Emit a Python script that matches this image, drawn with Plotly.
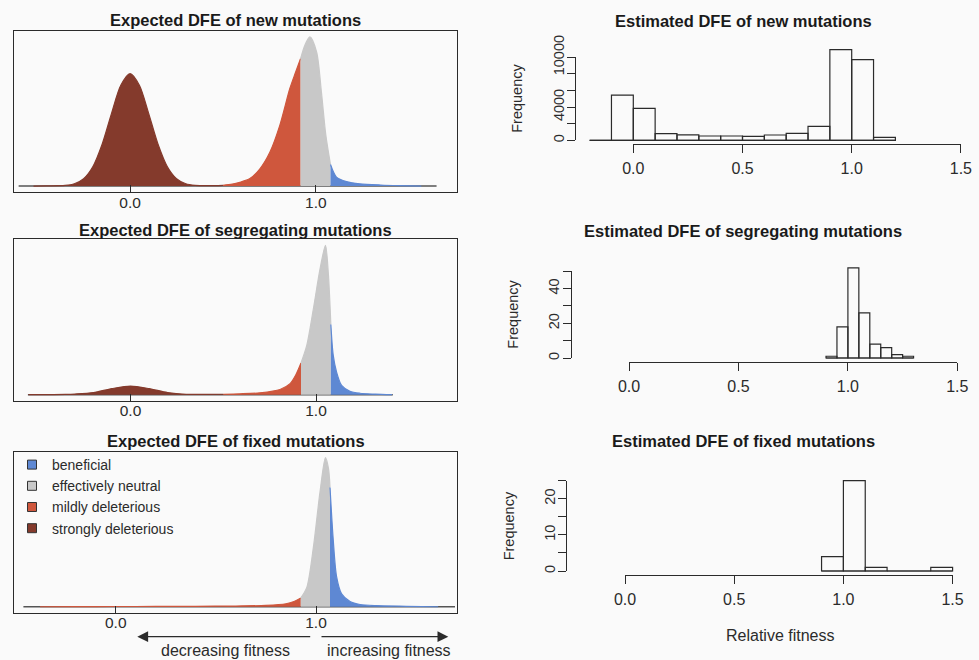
import plotly.graph_objects as go

W, H = 979, 660
FONT = "Liberation Sans, Arial, Helvetica, sans-serif"
INK = "#2b2b2b"
BG = "#fafafa"

# ---------------- data ----------------
category_names = ["beneficial", "effectively neutral", "mildly deleterious", "strongly deleterious"]
category_colors = ["#5e88d3", "#c8c8c8", "#cf573d", "#843a2c"]

# Expected DFE: relative density (tallest peak = 1)
new_x = [-0.52, -0.45, -0.35, -0.30, -0.25, -0.20, -0.15, -0.10, -0.05, 0.00, 0.05, 0.10, 0.15,
         0.20, 0.25, 0.30, 0.35, 0.42, 0.50, 0.55, 0.59, 0.645, 0.70, 0.753, 0.806, 0.86, 0.89,
         0.918, 0.941, 0.968, 1.004, 1.03, 1.054, 1.079, 1.111, 1.165, 1.237, 1.35, 1.45, 1.568]
new_y = [0.0, 0.001, 0.004, 0.015, 0.049, 0.131, 0.282, 0.487, 0.676, 0.754, 0.676, 0.487, 0.282,
         0.131, 0.049, 0.015, 0.005, 0.003, 0.005, 0.013, 0.025, 0.05, 0.117, 0.228, 0.407, 0.654, 0.76,
         0.855, 0.945, 1.0, 0.90, 0.63, 0.34, 0.144, 0.06, 0.03, 0.015, 0.007, 0.003, 0.0]
new_bounds = [0.50, 0.918, 1.079]       # strongly | mildly | neutral | beneficial
new_support = [-0.60, 1.65]

seg_x = [-0.55, -0.45, -0.35, -0.30, -0.20, -0.10, 0.00, 0.10, 0.20, 0.30, 0.40, 0.50, 0.59,
         0.698, 0.806, 0.86, 0.89, 0.919, 0.95, 0.986, 1.022, 1.051, 1.066, 1.08, 1.093, 1.111,
         1.138, 1.183, 1.237, 1.32, 1.41]
seg_y = [0.0, 0.0005, 0.002, 0.0045, 0.0145, 0.041, 0.058, 0.041, 0.0145, 0.003, 0.002, 0.003, 0.006,
         0.013, 0.035, 0.074, 0.13, 0.212, 0.33, 0.576, 0.844, 1.0, 0.82, 0.47, 0.263, 0.151,
         0.062, 0.023, 0.01, 0.004, 0.0]
seg_bounds = [0.50, 0.919, 1.08]
seg_support = [-0.553, 1.414]

fix_x = [-0.378, -0.2, 0.0, 0.2, 0.4, 0.6, 0.75, 0.85, 0.89, 0.924, 0.954, 0.987, 1.02, 1.047,
         1.062, 1.07, 1.086, 1.103, 1.128, 1.17, 1.22, 1.3, 1.45, 1.61]
fix_y = [0.0, 0.001, 0.0015, 0.002, 0.003, 0.005, 0.009, 0.02, 0.035, 0.059, 0.13, 0.40, 0.77, 1.0,
         0.93, 0.80, 0.45, 0.2, 0.086, 0.035, 0.015, 0.007, 0.003, 0.0]
fix_bounds = [-0.378, 0.924, 1.07]
fix_support = [-0.461, 1.694]

# Estimated DFE: histogram breaks and counts
new_breaks = [-0.2, -0.1, 0.0, 0.1, 0.2, 0.3, 0.4, 0.5, 0.6, 0.7, 0.8, 0.9, 1.0, 1.1, 1.2]
new_counts = [0, 5450, 3850, 800, 650, 520, 520, 480, 640, 840, 1680, 10920, 9720, 360]
seg_breaks = [0.90, 0.95, 1.00, 1.05, 1.10, 1.15, 1.20, 1.25, 1.30]
seg_counts = [1, 18, 52, 26, 8, 6, 2, 1]
fix_breaks = [0.9, 1.0, 1.1, 1.2, 1.3, 1.4, 1.5]
fix_counts = [4, 25, 1, 0, 0, 1]

left_titles = ["Expected DFE of new mutations", "Expected DFE of segregating mutations",
               "Expected DFE of fixed mutations"]
right_titles = ["Estimated DFE of new mutations", "Estimated DFE of segregating mutations",
                "Estimated DFE of fixed mutations"]
x_tick_vals = [0.0, 0.5, 1.0, 1.5]
x_tick_text = ["0.0", "0.5", "1.0", "1.5"]
left_tick_vals = [0.0, 1.0]
left_tick_text = ["0.0", "1.0"]
y_tick_vals = [[0, 2000, 4000, 6000, 8000, 10000], [0, 10, 20, 30, 40, 50], [0, 5, 10, 15, 20, 25]]
y_tick_text = [["0", "", "4000", "", "", "10000"], ["0", "", "20", "", "40", ""],
               ["0", "", "10", "", "20", ""]]

# ---------------- layout geometry (pixels) ----------------
left_specs = [
    dict(top=31, bottom=192, xr=(-0.625, 1.76), title_y=20.5),
    dict(top=239.3, bottom=400.7, xr=(-0.628, 1.76), title_y=230),
    dict(top=451.7, bottom=612.7, xr=(-0.508, 1.704), title_y=440.7),
]
LEFT_X0, LEFT_X1 = 14, 457

right_specs = [
    dict(x0=633.3, ppu=218.4, y0=140.3, ppc=0.0083, ytop=10000, xline=144, yline=575, title_y=21, freq_x=517),
    dict(x0=629.0, ppu=218.9, y0=358.0, ppc=1.734, ytop=50, xline=362.3, yline=570.7, title_y=230.7, freq_x=513),
    dict(x0=625.0, ppu=218.4, y0=571.0, ppc=3.612, ytop=25, xline=575, yline=566, title_y=441, freq_x=508.5),
]

fig = go.Figure()
lay = {}
ann = []


def aid(n):
    return "" if n == 1 else str(n)


# ---------------- left: expected DFE densities ----------------
dens = [(new_x, new_y, new_bounds, new_support),
        (seg_x, seg_y, seg_bounds, seg_support),
        (fix_x, fix_y, fix_bounds, fix_support)]

for i, (spec, (xs, ys, b, sup)) in enumerate(zip(left_specs, dens)):
    n = i + 1
    xr, yr = "x" + aid(n), "y" + aid(n)
    fig.add_trace(go.Scatter(x=sup, y=[0, 0], mode="lines", line=dict(color="#555555", width=1.5),
                             xaxis=xr, yaxis=yr, showlegend=False, hoverinfo="skip"))
    tests = [
        (3, lambda v: v <= b[0]),
        (2, lambda v: b[0] <= v <= b[1]),
        (1, lambda v: b[1] <= v <= b[2]),
        (0, lambda v: v >= b[2]),
    ]
    for ci, test in tests:
        pts = [(xv, yv) for xv, yv in zip(xs, ys) if test(xv)]
        if len(pts) < 2:
            continue
        c = category_colors[ci]
        fig.add_trace(go.Scatter(x=[p[0] for p in pts], y=[p[1] for p in pts], mode="lines",
                                 line=dict(color=c, width=1.2, shape="spline", smoothing=0.8),
                                 fill="tozeroy", fillcolor=c, xaxis=xr, yaxis=yr,
                                 showlegend=False, hoverinfo="skip"))
    lay["xaxis" + aid(n)] = dict(domain=[LEFT_X0 / W, LEFT_X1 / W], range=list(spec["xr"]), anchor=yr,
                                 showline=True, mirror=True, linecolor=INK, linewidth=1,
                                 ticks="inside", ticklen=7, tickwidth=1, tickcolor=INK,
                                 tickvals=left_tick_vals, ticktext=left_tick_text, ticklabelstandoff=-4,
                                 tickfont=dict(size=15.5, color=INK, family=FONT),
                                 showgrid=False, zeroline=False, fixedrange=True)
    lay["yaxis" + aid(n)] = dict(domain=[1 - spec["bottom"] / H, 1 - spec["top"] / H], range=[-0.04, 1.04],
                                 anchor=xr, showline=True, mirror=True, linecolor=INK, linewidth=1,
                                 showticklabels=False, ticks="", showgrid=False, zeroline=False,
                                 fixedrange=True)
    ann.append(dict(text=left_titles[i], x=(LEFT_X0 + LEFT_X1) / 2 / W, y=1 - spec["title_y"] / H,
                    xref="paper", yref="paper", showarrow=False, xanchor="center", yanchor="middle",
                    font=dict(size=16.5, color="#1a1a1a", family=FONT, weight="bold")))

# ---------------- right: estimated DFE histograms ----------------
hists = [(new_breaks, new_counts), (seg_breaks, seg_counts), (fix_breaks, fix_counts)]
for i, (spec, (brk, cnt)) in enumerate(zip(right_specs, hists)):
    nd = 4 + i          # data axes
    na = 7 + i          # decorative axes
    xr, yr = "x" + aid(nd), "y" + aid(nd)
    px = lambda v, s=spec: s["x0"] + v * s["ppu"]
    py = lambda v, s=spec: s["y0"] - v * s["ppc"]
    xrange = [-0.25, 1.55]
    yrange = [-0.04 * spec["ytop"], 1.15 * spec["ytop"]]
    centers = [(a + c) / 2 for a, c in zip(brk[:-1], brk[1:])]
    widths = [c - a for a, c in zip(brk[:-1], brk[1:])]
    fig.add_trace(go.Scatter(x=[brk[0], brk[-1]], y=[0, 0], mode="lines", line=dict(color=INK, width=1.2),
                             xaxis=xr, yaxis=yr, showlegend=False, hoverinfo="skip"))
    fig.add_trace(go.Bar(x=centers, y=cnt, width=widths, marker=dict(color="rgba(0,0,0,0)",
                         line=dict(color=INK, width=1.2)), xaxis=xr, yaxis=yr, showlegend=False,
                         hoverinfo="skip"))
    lay["xaxis" + aid(nd)] = dict(domain=[px(xrange[0]) / W, px(xrange[1]) / W], range=xrange,
                                  anchor=yr, visible=False, fixedrange=True)
    lay["yaxis" + aid(nd)] = dict(domain=[1 - py(yrange[0]) / H, 1 - py(yrange[1]) / H], range=yrange,
                                  anchor=xr, visible=False, fixedrange=True)
    # decorative R-style axes (span first to last tick only)
    xa, ya = "x" + aid(na), "y" + aid(na)
    fig.add_trace(go.Scatter(x=[None], y=[None], xaxis=xa, yaxis=ya, showlegend=False, hoverinfo="skip"))
    lay["xaxis" + aid(na)] = dict(domain=[px(0) / W, px(1.5) / W], range=[0, 1.5], anchor="free",
                                  position=1 - spec["xline"] / H, showline=True, linecolor=INK, linewidth=1.2,
                                  ticks="outside", ticklen=7.5, tickwidth=1.2, tickcolor=INK,
                                  tickvals=x_tick_vals, ticktext=x_tick_text, ticklabelstandoff=2,
                                  tickfont=dict(size=16, color=INK, family=FONT),
                                  showgrid=False, zeroline=False, fixedrange=True, automargin=False)
    lay["yaxis" + aid(na)] = dict(domain=[1 - py(0) / H, 1 - py(spec["ytop"]) / H], range=[0, spec["ytop"]],
                                  anchor="free", position=spec["yline"] / W, showline=True, linecolor=INK,
                                  linewidth=1.2, ticks="outside", ticklen=7.5, tickwidth=1.2, tickcolor=INK,
                                  tickvals=y_tick_vals[i], ticktext=y_tick_text[i], tickangle=-90,
                                  ticklabelstandoff=-2,
                                  tickfont=dict(size=14.5, color=INK, family=FONT),
                                  showgrid=False, zeroline=False, fixedrange=True, automargin=False)
    ann.append(dict(text=right_titles[i], x=743 / W, y=1 - spec["title_y"] / H, xref="paper", yref="paper",
                    showarrow=False, xanchor="center", yanchor="middle",
                    font=dict(size=16.5, color="#1a1a1a", family=FONT, weight="bold")))
    ann.append(dict(text="Frequency", x=spec["freq_x"] / W, y=1 - py(spec["ytop"] / 2) / H, xref="paper",
                    yref="paper", showarrow=False, textangle=-90, xanchor="center", yanchor="middle",
                    font=dict(size=14.5, color=INK, family=FONT)))

ann.append(dict(text="Relative fitness", x=780 / W, y=1 - 635.7 / H, xref="paper", yref="paper",
                showarrow=False, xanchor="center", yanchor="middle", font=dict(size=16, color=INK, family=FONT)))

# fitness direction arrows under the bottom-left panel
for head, tail in [(137.3, 311.7), (448.3, 320.0)]:
    ann.append(dict(text="", x=head / W, y=1 - 636.7 / H, xref="paper", yref="paper", showarrow=True,
                    ax=tail - head, ay=0, axref="pixel", ayref="pixel", arrowhead=2, arrowsize=1.8,
                    arrowwidth=1.2, arrowcolor=INK, standoff=0, startstandoff=0))
ann.append(dict(text="decreasing fitness", x=225.8 / W, y=1 - 650.5 / H, xref="paper", yref="paper",
                showarrow=False, xanchor="center", yanchor="middle", font=dict(size=16, color=INK, family=FONT)))
ann.append(dict(text="increasing fitness", x=388.8 / W, y=1 - 650.5 / H, xref="paper", yref="paper",
                showarrow=False, xanchor="center", yanchor="middle", font=dict(size=16, color=INK, family=FONT)))

# legend entries (drawn by the library's legend)
for name, col in zip(category_names, category_colors):
    fig.add_trace(go.Scatter(x=[None], y=[None], mode="markers", name=name, xaxis="x3", yaxis="y3",
                             marker=dict(symbol="square", size=9, color=col, line=dict(color="#333333", width=1))))

fig.update_layout(
    width=W, height=H, margin=dict(l=0, r=0, t=0, b=0, autoexpand=False),
    paper_bgcolor=BG, plot_bgcolor="rgba(0,0,0,0)",
    font=dict(family=FONT, color=INK),
    showlegend=True,
    legend=dict(x=12 / W, y=1 - 449 / H, xanchor="left", yanchor="top", bgcolor="rgba(0,0,0,0)",
                font=dict(size=14, color=INK, family=FONT), itemwidth=30, tracegroupgap=0),
    annotations=ann,
    **lay,
)

fig.write_html("out.html", config={"displayModeBar": False},
               post_script="document.body.style.margin='0px'; document.body.style.background='#fafafa';")
